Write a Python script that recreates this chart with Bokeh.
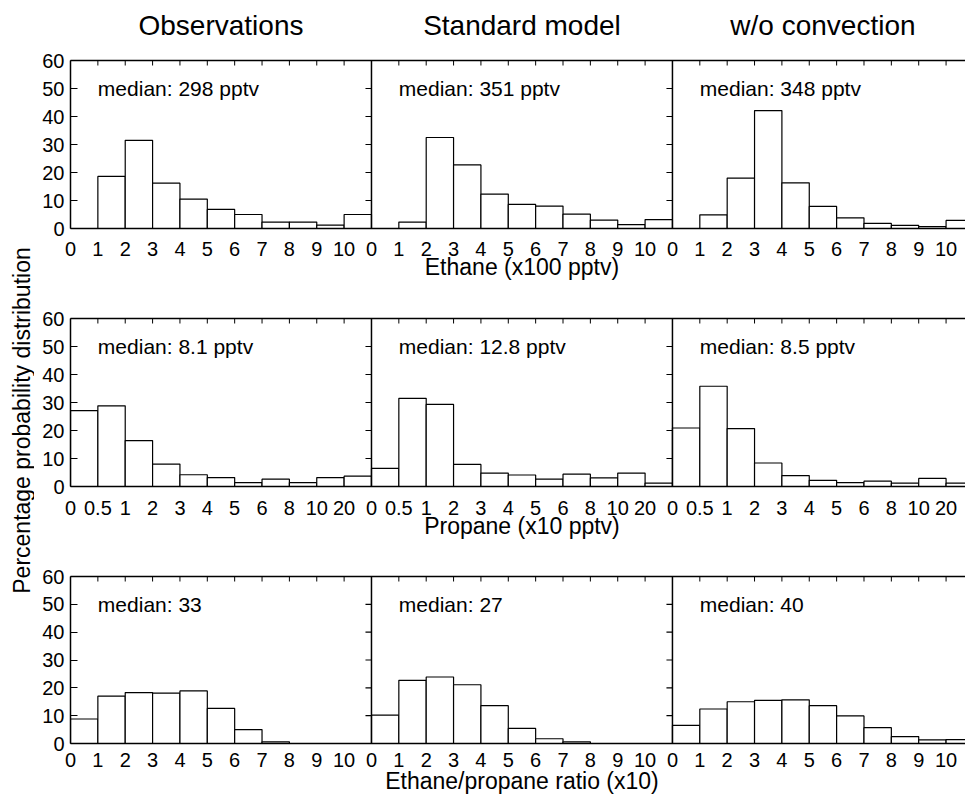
import math
from bokeh.plotting import figure
from bokeh.layouts import row, column
from bokeh.models import Range1d, FixedTicker, LinearAxis, Span
from bokeh.core.properties import value
from bokeh.embed import file_html
from bokeh.resources import INLINE

# ---------------- data ----------------
column_titles = ["Observations", "Standard model", "w/o convection"]

ethane_ticks = ["0", "1", "2", "3", "4", "5", "6", "7", "8", "9", "10"]
propane_ticks = ["0", "0.5", "1", "2", "3", "4", "5", "6", "8", "10", "20"]
ratio_ticks = ["0", "1", "2", "3", "4", "5", "6", "7", "8", "9", "10"]

ethane_obs = [0.0, 18.6, 31.5, 16.2, 10.5, 6.8, 5.0, 2.3, 2.3, 1.2, 5.0]
ethane_std = [0.0, 2.3, 32.5, 22.7, 12.3, 8.6, 8.0, 5.1, 3.0, 1.4, 3.2]
ethane_noconv = [0.0, 4.9, 18.0, 42.1, 16.3, 7.9, 3.8, 1.8, 1.1, 0.7, 2.9]

propane_obs = [27.1, 28.8, 16.4, 8.0, 4.2, 3.2, 1.4, 2.6, 1.4, 3.2, 3.7]
propane_std = [6.5, 31.5, 29.3, 7.9, 4.8, 4.1, 2.6, 4.4, 3.1, 4.8, 1.2]
propane_noconv = [20.9, 35.8, 20.7, 8.4, 3.9, 2.2, 1.4, 1.9, 1.2, 2.9, 1.2]

ratio_obs = [8.8, 17.0, 18.3, 18.1, 18.9, 12.6, 5.0, 0.6, 0.0, 0.0, 0.0]
ratio_std = [10.2, 22.7, 23.9, 21.1, 13.6, 5.4, 1.7, 0.6, 0.0, 0.0, 0.0]
ratio_noconv = [6.5, 12.4, 15.0, 15.5, 15.7, 13.6, 9.9, 5.7, 2.5, 1.3, 1.4]

medians_ethane = ["median: 298 pptv", "median: 351 pptv", "median: 348 pptv"]
medians_propane = ["median: 8.1 pptv", "median: 12.8 pptv", "median: 8.5 pptv"]
medians_ratio = ["median: 33", "median: 27", "median: 40"]

x_titles = ["Ethane (x100 pptv)", "Propane (x10 pptv)", "Ethane/propane ratio (x10)"]
y_title = "Percentage probability distribution"
y_ticks = [0, 10, 20, 30, 40, 50, 60]

# ---------------- style ----------------
FONT = "Liberation Sans"
LW = 1.5
NB = 11            # bins per panel (panel width in x units)
LAST_END = 10.71   # visible part of the right-hand panel


def make_row(series, tick_labels, medians, xtitle, height, top, bottom,
             tick_standoff, xtitle_standoff, with_titles):
    p = figure(width=931, height=height,
               x_range=Range1d(0, 2 * NB + LAST_END), y_range=Range1d(0, 60),
               output_backend="svg", toolbar_location=None,
               x_axis_location=None, y_axis_location=None,
               min_border_left=36, min_border_right=0,
               min_border_top=top, min_border_bottom=bottom)
    p.outline_line_color = None
    p.background_fill_color = "white"
    p.border_fill_color = "white"
    p.grid.grid_line_color = None

    for j, vals in enumerate(series):
        left = [i + j * NB for i in range(len(vals))]
        right = [v + 1 for v in left]
        p.quad(left=left, right=right, bottom=0, top=vals,
               fill_color="white", line_color="black", line_width=1.2)

    # left axis with labels
    ya = LinearAxis(ticker=FixedTicker(ticks=y_ticks),
                    major_tick_in=7, major_tick_out=0,
                    minor_tick_line_color=None,
                    major_label_standoff=6,
                    major_label_text_font=FONT,
                    major_label_text_font_size="20px",
                    major_label_text_color="black",
                    axis_line_width=LW, major_tick_line_width=1.2)
    p.add_layout(ya, "left")

    # top frame line (no ticks) ...
    ta = LinearAxis(ticker=FixedTicker(ticks=[]),
                    major_tick_in=0, major_tick_out=0,
                    minor_tick_line_color=None,
                    major_label_standoff=0,
                    axis_line_width=LW)
    p.add_layout(ta, "above")
    # ... with small inward ticks at every integer
    top_ticks = [t for t in range(1, 3 * NB) if t % NB != 0]
    p.ray(x=top_ticks, y=[60] * len(top_ticks), length=5, length_units="screen",
          angle=-math.pi / 2, line_color="black", line_width=1.0)

    if with_titles:
        tt = LinearAxis(ticker=FixedTicker(ticks=[5.5 + j * NB for j in range(3)]),
                        major_label_overrides={5.5 + j * NB: t for j, t in enumerate(column_titles)},
                        major_tick_in=0, major_tick_out=0,
                        minor_tick_line_color=None, axis_line_color=None,
                        major_label_standoff=20,
                        major_label_text_font=FONT,
                        major_label_text_font_size="28px",
                        major_label_text_color="black")
        p.add_layout(tt, "above")

    # bottom axis: tick labels only
    ticks = [i + j * NB for j in range(3) for i in range(len(tick_labels))]
    overrides = {t: tick_labels[t % NB] for t in ticks}
    ba = LinearAxis(ticker=FixedTicker(ticks=ticks),
                    major_tick_in=0, major_tick_out=0,
                    minor_tick_line_color=None,
                    major_label_overrides=overrides,
                    major_label_standoff=tick_standoff,
                    major_label_text_font=FONT,
                    major_label_text_font_size="20px",
                    major_label_text_color="black",
                    axis_line_width=LW)
    p.add_layout(ba, "below")

    # axis title under the middle panel
    xt = LinearAxis(ticker=FixedTicker(ticks=[NB + 5.5]),
                    major_label_overrides={NB + 5.5: xtitle},
                    major_tick_in=0, major_tick_out=0,
                    minor_tick_line_color=None, axis_line_color=None,
                    major_label_standoff=xtitle_standoff,
                    major_label_text_font=FONT,
                    major_label_text_font_size="23px",
                    major_label_text_color="black")
    p.add_layout(xt, "below")

    # panel separators and their outward ticks
    for j in (1, 2):
        p.add_layout(Span(location=j * NB, dimension="height",
                          line_color="black", line_width=LW))
        p.ray(x=[j * NB] * 5, y=y_ticks[1:6], length=6, length_units="screen",
              angle=math.pi, line_color="black", line_width=1.2)

    # median labels
    p.text(x=[1 + j * NB for j in range(3)], y=[50] * 3, text=medians,
           text_font=value(FONT), text_font_size="21px",
           text_baseline="alphabetic", text_align="left", text_color="black")
    return p


r1 = make_row([ethane_obs, ethane_std, ethane_noconv], ethane_ticks,
              medians_ethane, x_titles[0], 308, 60, 80, 13, -5, True)
r2 = make_row([propane_obs, propane_std, propane_noconv], propane_ticks,
              medians_propane, x_titles[1], 258, 10, 80, 14, -5, False)
r3 = make_row([ratio_obs, ratio_std, ratio_noconv], ratio_ticks,
              medians_ratio, x_titles[2], 230, 10, 53, 9, -2, False)

yl = figure(width=34, height=796, x_range=Range1d(0, 34), y_range=Range1d(0, 796),
            output_backend="svg", toolbar_location=None,
            x_axis_location=None, y_axis_location=None, min_border=0)
yl.outline_line_color = None
yl.grid.grid_line_color = None
yl.text(x=[21], y=[376], text=[y_title], angle=math.pi / 2,
        text_align="center", text_baseline="middle",
        text_font=value(FONT), text_font_size="23px", text_color="black")

layout = row(yl, column(r1, r2, r3))

open("out.html", "w").write(file_html(layout, INLINE))
